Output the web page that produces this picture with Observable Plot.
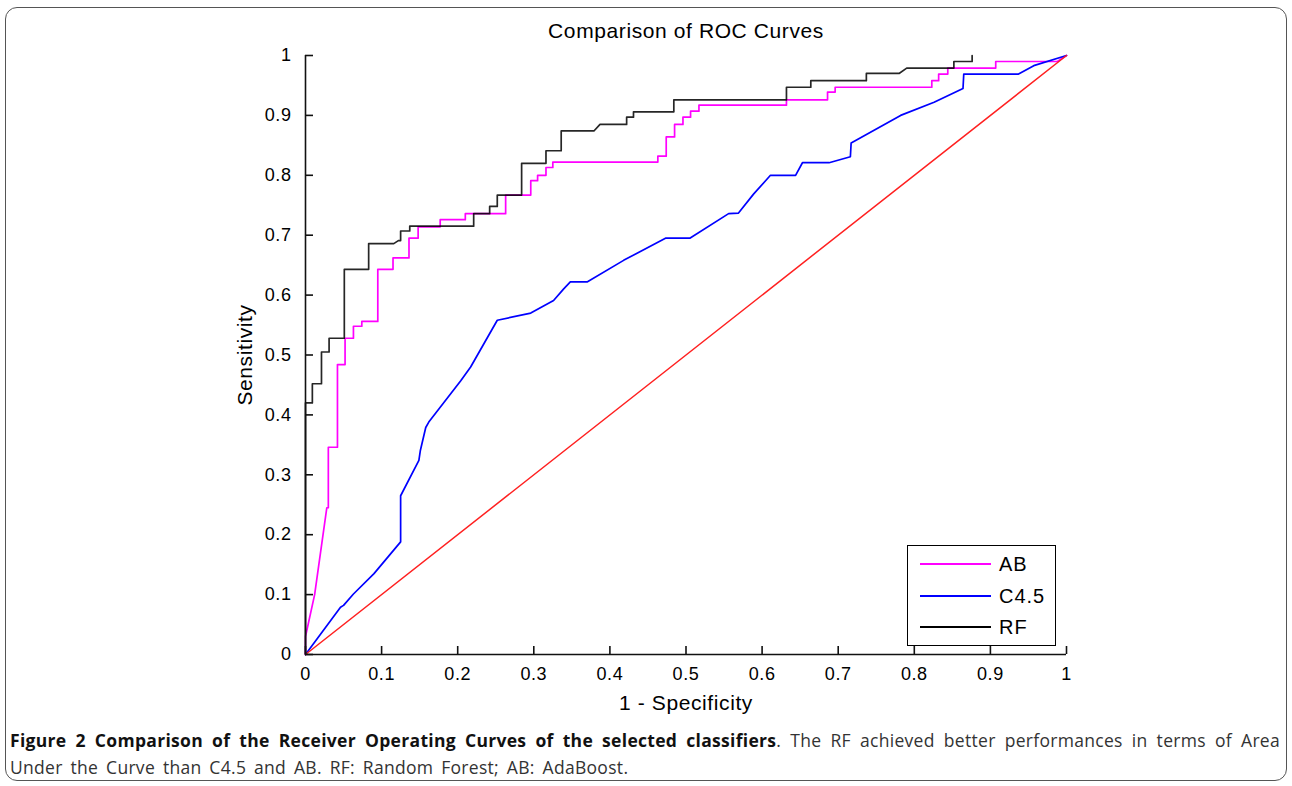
<!DOCTYPE html>
<html>
<head>
<meta charset="utf-8">
<script src="https://cdn.jsdelivr.net/npm/d3@7"></script>
<script src="https://cdn.jsdelivr.net/npm/@observablehq/plot@0.6"></script>
<style>
  html, body { margin: 0; padding: 0; background: #fff; }
  body { width: 1292px; height: 786px; overflow: hidden; position: relative; font-family: "Liberation Sans", Arial, sans-serif; }
  #frame { position: absolute; left: 5px; top: 7px; width: 1282px; height: 774px; border: 1.5px solid #555; border-radius: 12px; box-sizing: border-box; }
  #chart { position: absolute; left: 0; top: 0; }
  #legend { position: absolute; left: 907px; top: 545px; width: 149px; height: 101px; border: 1.3px solid #000; background: #fff; box-sizing: border-box; }
  .row { position: absolute; left: 0; width: 100%; height: 0; }
  .row .sw { position: absolute; left: 12px; width: 71px; top: -1px; height: 0; border-top: 2px solid; }
  .row .lb { position: absolute; left: 91px; top: -12px; font-size: 20px; line-height: 24px; color: #000; letter-spacing: 1px; }
  .cap { position: absolute; left: 10px; width: 1270px; font-family: "Open Sans", sans-serif; font-size: 17.5px; line-height: 22px; color: #333; white-space: nowrap; letter-spacing: 0.3px; }
  .cap b { color: #111; font-weight: 700; }
  #cap1 { top: 729px; text-align: justify; text-align-last: justify; }
  #cap2 { top: 756px; word-spacing: 3px; }
</style>
</head>
<body>
<div id="frame"></div>
<div id="chart"></div>
<div id="legend"></div>
<div class="cap" id="cap1"></div>
<div class="cap" id="cap2"></div>
<script>
// ---- data ----
const seriesNames = ["AB", "C4.5", "RF"];
const seriesColors = ["#ff00ff", "#0000ff", "#000000"];

const abX = [0,0,0.012,0.028,0.03,0.03,0.042,0.042,0.052,0.052,0.063,0.063,0.074,0.074,0.095,0.095,0.115,0.115,0.136,0.136,0.148,0.148,0.177,0.177,0.210,0.210,0.263,0.263,0.296,0.296,0.305,0.305,0.316,0.316,0.325,0.325,0.463,0.463,0.474,0.474,0.485,0.485,0.496,0.496,0.506,0.506,0.517,0.517,0.632,0.632,0.686,0.686,0.696,0.696,0.823,0.823,0.832,0.832,0.844,0.844,0.907,0.907,0.988,1];
const abY = [0,0.03,0.1,0.245,0.245,0.346,0.346,0.484,0.484,0.528,0.528,0.548,0.548,0.556,0.556,0.643,0.643,0.662,0.662,0.695,0.695,0.714,0.714,0.726,0.726,0.736,0.736,0.767,0.767,0.791,0.791,0.800,0.800,0.813,0.813,0.822,0.822,0.832,0.832,0.864,0.864,0.885,0.885,0.897,0.897,0.907,0.907,0.917,0.917,0.926,0.926,0.939,0.939,0.947,0.947,0.958,0.958,0.969,0.969,0.979,0.979,0.990,0.990,1];

const c45X = [0,0.046,0.050,0.063,0.090,0.125,0.125,0.149,0.151,0.158,0.162,0.204,0.217,0.252,0.296,0.326,0.339,0.348,0.370,0.418,0.473,0.505,0.556,0.569,0.589,0.611,0.644,0.653,0.688,0.716,0.717,0.782,0.826,0.864,0.865,0.937,0.957,1];
const c45Y = [0,0.079,0.082,0.101,0.135,0.188,0.265,0.324,0.341,0.379,0.388,0.457,0.480,0.558,0.570,0.591,0.610,0.622,0.622,0.658,0.695,0.695,0.736,0.737,0.769,0.800,0.800,0.821,0.821,0.831,0.854,0.900,0.922,0.945,0.969,0.969,0.983,1];

const rfX = [0,0,0.009,0.009,0.021,0.021,0.031,0.031,0.051,0.051,0.083,0.083,0.116,0.122,0.125,0.125,0.137,0.137,0.221,0.221,0.242,0.242,0.252,0.252,0.284,0.284,0.316,0.316,0.336,0.336,0.379,0.387,0.422,0.422,0.431,0.431,0.484,0.484,0.632,0.632,0.664,0.664,0.737,0.737,0.780,0.790,0.852,0.852,0.876,0.876];
const rfY = [0,0.42,0.42,0.452,0.452,0.505,0.505,0.528,0.528,0.643,0.643,0.686,0.686,0.691,0.691,0.707,0.707,0.715,0.715,0.736,0.736,0.748,0.748,0.767,0.767,0.820,0.820,0.841,0.841,0.874,0.874,0.885,0.885,0.897,0.897,0.906,0.906,0.926,0.926,0.947,0.947,0.958,0.958,0.970,0.970,0.979,0.979,0.990,0.990,1.0];

const chanceX = [0, 1];
const chanceY = [0, 1];

const xTicks = [0, 0.1, 0.2, 0.3, 0.4, 0.5, 0.6, 0.7, 0.8, 0.9, 1];
const yTicks = [0, 0.1, 0.2, 0.3, 0.4, 0.5, 0.6, 0.7, 0.8, 0.9, 1];

const titleText = "Comparison of ROC Curves";
const xLabelText = "1 - Specificity";
const yLabelText = "Sensitivity";
const captionBold = "Figure 2 Comparison of the Receiver Operating Curves of the selected classifiers";
const captionRest1 = ". The RF achieved better performances in terms of Area";
const captionRest2 = "Under the Curve than C4.5 and AB. RF: Random Forest; AB: AdaBoost.";

// ---- build tables ----
const zip = (xs, ys) => xs.map((x, i) => ({x, y: ys[i]}));
const ab = zip(abX, abY), c45 = zip(c45X, c45Y), rf = zip(rfX, rfY), chance = zip(chanceX, chanceY);

const W = 1292, H = 720;
const mL = 305, mR = 226, mT = 55, mB = 66;
const plotW = W - mL - mR, plotH = H - mT - mB;
const tickLen = 8;
const font = "Liberation Sans, Arial, Helvetica, sans-serif";

const chart = Plot.plot({
  width: W, height: H,
  marginLeft: mL, marginRight: mR, marginTop: mT, marginBottom: mB,
  x: {domain: [0, 1]},
  y: {domain: [0, 1]},
  style: {fontFamily: font, background: "transparent", color: "#000", overflow: "visible", letterSpacing: "0.6px"},
  marks: [
    Plot.line(ab, {x: "x", y: "y", stroke: seriesColors[0], strokeWidth: 1.7}),
    Plot.line(c45, {x: "x", y: "y", stroke: seriesColors[1], strokeWidth: 1.7}),
    Plot.line(rf, {x: "x", y: "y", stroke: seriesColors[2], strokeWidth: 1.7, strokeOpacity: 0.85}),
    Plot.line(chance, {x: "x", y: "y", stroke: "#ff2020", strokeWidth: 1.5}),
    Plot.ruleX([0], {stroke: "#111", strokeWidth: 1.6}),
    Plot.ruleY([0], {stroke: "#111", strokeWidth: 1.6}),
    Plot.ruleX(xTicks, {stroke: "#111", strokeWidth: 1.6, insetTop: plotH - tickLen}),
    Plot.ruleY(yTicks, {stroke: "#111", strokeWidth: 1.6, insetRight: plotW - tickLen}),
    Plot.axisX({ticks: xTicks, tickSize: 0, tickPadding: 13, fontSize: 18, label: null, tickFormat: d => String(d)}),
    Plot.axisY({ticks: yTicks, tickSize: 0, tickPadding: 14, fontSize: 18, label: null, tickFormat: d => String(d)}),
    Plot.text([titleText], {text: d => d, frameAnchor: "top", dy: -32, fontSize: 21, fill: "#000", ariaLabel: "chart-title"}),
    Plot.text([xLabelText], {text: d => d, frameAnchor: "bottom", dy: 55, fontSize: 21, fill: "#000", ariaLabel: "x-title"}),
    Plot.text([yLabelText], {text: d => d, frameAnchor: "left", textAnchor: "middle", dx: -60, rotate: -90, fontSize: 21, fill: "#000", ariaLabel: "y-title"})
  ]
});
document.getElementById("chart").appendChild(chart);
d3.select(chart).selectAll('g[aria-label="chart-title"] text').style("letter-spacing", "0.9px");
d3.select(chart).selectAll('g[aria-label="x-title"] text').style("letter-spacing", "1px");
d3.select(chart).selectAll('g[aria-label="y-title"] text').style("letter-spacing", "1.8px");

// ---- legend ----
const legend = document.getElementById("legend");
const rowTops = [18, 50, 81];
seriesNames.forEach((name, i) => {
  const row = document.createElement("div");
  row.className = "row";
  row.style.top = rowTops[i] + "px";
  const sw = document.createElement("div");
  sw.className = "sw";
  sw.style.borderTopColor = seriesColors[i];
  const lb = document.createElement("div");
  lb.className = "lb";
  lb.textContent = name;
  row.appendChild(sw); row.appendChild(lb);
  legend.appendChild(row);
});

// ---- caption ----
const c1 = document.getElementById("cap1");
const b = document.createElement("b");
b.textContent = captionBold;
c1.appendChild(b);
c1.appendChild(document.createTextNode(captionRest1));
document.getElementById("cap2").textContent = captionRest2;
</script>
</body>
</html>
